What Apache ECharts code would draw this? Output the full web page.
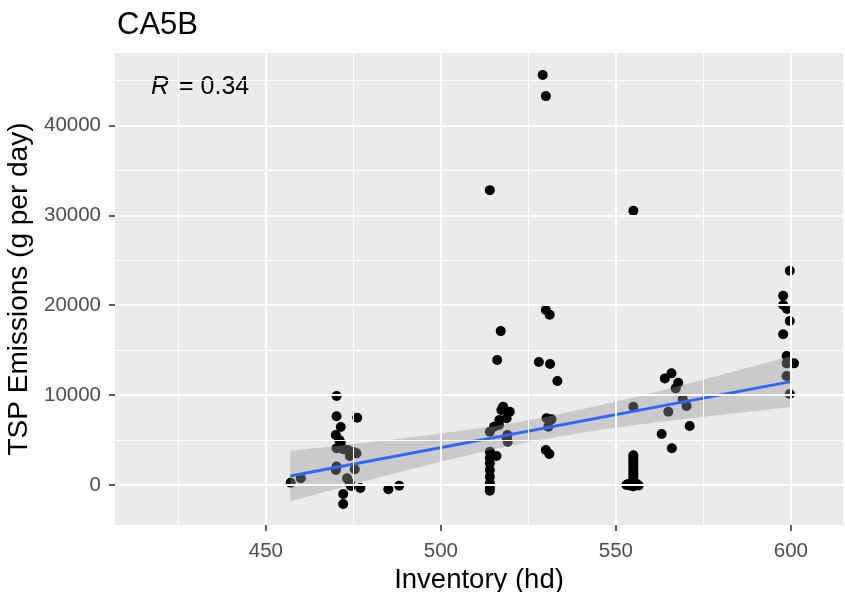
<!DOCTYPE html>
<html>
<head>
<meta charset="utf-8">
<script src="https://cdn.jsdelivr.net/npm/echarts@6/dist/echarts.min.js"></script>
<style>
html,body{margin:0;padding:0;background:#fff;}
#chart{width:845px;height:592px;}
</style>
</head>
<body>
<div id="chart"></div>
<script>
// ---- data ----
const inventory = [
  457.1, 460, 470.2, 470.2, 476.1, 471.4, 470, 471, 471.4, 470.2, 472.1, 473.5, 474.9, 475.9, 474, 475.4, 470, 470.2, 473.2, 474, 474.3, 477, 472.1, 472.1, 485, 488.1,
  514, 517.1, 516.1, 517.8, 519.7, 517.3, 518.8, 516.7, 515.2, 514, 519, 519.1, 518.8, 516.6, 514, 515.9, 514, 514, 514, 514, 514, 514, 514,
  529.1, 530, 530, 531.1, 528, 531.2, 533.3, 530.2, 531.6, 530.7, 530, 531,
  555, 555, 555, 555, 555, 555, 555, 555, 555, 555, 555, 555, 553, 553.5, 554, 554.5, 555.5, 556, 556.5, 555,
  564, 565.9, 567.8, 567.1, 569.1, 570.2, 565, 571.1, 563.1, 566,
  599.7, 597.8, 597.8, 598.9, 599.7, 597.8, 598.8, 598.8, 600.9, 598.8, 599.7
];
const tspEmissions = [
  260, 750, 9900, 7650, 7480, 6450, 5560, 5000, 4700, 4080, 3970, 3890, 3700, 3520, 3225, 1745, 1670, 2050, 745, 190, -110, -330, -1000, -2110, -480, -80,
  32800, 17120, 13900, 8710, 8150, 8340, 7420, 7230, 6480, 5930, 5560, 4820, 5190, 6670, 3700, 3225, 3000, 2410, 1670, 920, 190, -300, -630,
  45600, 43260, 19460, 18940, 13680, 13460, 11560, 7420, 7300, 6480, 3890, 3450,
  30500, 8710, 3300, 3000, 2700, 2400, 2100, 1800, 1500, 1200, 900, 600, 0, 100, -50, 50, 0, 100, -50, -150,
  11860, 12420, 11380, 10750, 9560, 8780, 8150, 6560, 5670, 4080,
  23830, 21050, 20020, 19570, 18240, 16760, 14350, 13530, 13530, 12120, 10120
];
// fitted line and its confidence band
const fitX = [457, 600];
const fitY = [1000, 11500];
const bandX = [457, 470, 480, 490, 500, 515, 528, 545, 560, 580, 600];
const bandUpper = [3815, 4343, 4776, 5231, 5716, 6543, 7411, 8803, 10215, 12235, 14326];
const bandLower = [-1815, -435, 600, 1613, 2596, 3971, 5011, 6115, 6905, 7821, 8666];
// ticks
const xTicks = [450, 500, 550, 600];
const xMinor = [425, 475, 525, 575];
const yTicks = [0, 10000, 20000, 30000, 40000];
const yMinor = [5000, 15000, 25000, 35000, 45000];
const xRange = [406.9, 614.9];
const yRange = [-4449, 48053];
const titleText = 'CA5B';
const xTitle = 'Inventory (hd)';
const yTitle = 'TSP Emissions (g per day)';
const corrItalic = 'R';
const corrRest = '= 0.34';

// ---- chart ----
const FONT = '"Liberation Sans", Arial, sans-serif';
const chart = echarts.init(document.getElementById('chart'), null, {renderer: 'canvas'});

const points = inventory.map((x, i) => [x, tspEmissions[i]]);
const gridLines = [];
xTicks.forEach(v => gridLines.push({xAxis: v, lineStyle: {width: 2}}));
xMinor.forEach(v => gridLines.push({xAxis: v, lineStyle: {width: 1}}));
yTicks.forEach(v => gridLines.push({yAxis: v, lineStyle: {width: 2}}));
yMinor.forEach(v => gridLines.push({yAxis: v, lineStyle: {width: 1}}));

const option = {
  animation: false,
  backgroundColor: '#ffffff',
  title: {
    text: titleText, left: 112, top: 5,
    textStyle: {fontFamily: FONT, fontSize: 31, fontWeight: 'normal', color: '#000'}
  },
  grid: {left: 115, right: 2, top: 53, bottom: 67, show: true, backgroundColor: '#EBEBEB', borderWidth: 0,
    outerBoundsMode: 'none', containLabel: false},
  xAxis: {
    type: 'value', min: xRange[0], max: xRange[1],
    name: xTitle, nameLocation: 'middle', nameGap: 36,
    nameTextStyle: {fontFamily: FONT, fontSize: 27.5, color: '#000'},
    axisLine: {show: false, onZero: false},
    axisTick: {show: true, customValues: xTicks, length: 6, lineStyle: {color: '#333333', width: 1.6}},
    axisLabel: {customValues: xTicks, fontFamily: FONT, fontSize: 20.5, color: '#4D4D4D', margin: 16,
      formatter: v => String(v)},
    splitLine: {show: false}
  },
  yAxis: {
    type: 'value', min: yRange[0], max: yRange[1],
    name: yTitle, nameLocation: 'middle', nameGap: 70,
    nameTextStyle: {fontFamily: FONT, fontSize: 28, color: '#000'},
    axisLine: {show: false, onZero: false},
    axisTick: {show: true, customValues: yTicks, length: 6, lineStyle: {color: '#333333', width: 1.6}},
    axisLabel: {customValues: yTicks, fontFamily: FONT, fontSize: 20.5, color: '#4D4D4D', margin: 14,
      formatter: v => String(v)},
    splitLine: {show: false}
  },
  graphic: [
    {type: 'text', left: 151, top: 75,
      style: {text: corrItalic, font: 'italic 25px ' + FONT, fill: '#000'}},
    {type: 'text', left: 179, top: 75,
      style: {text: corrRest, font: '25px ' + FONT, fill: '#000'}}
  ],
  series: [
    {
      type: 'line', data: [], z: 1, silent: true,
      markLine: {
        silent: true, symbol: ['none', 'none'], label: {show: false},
        lineStyle: {color: '#ffffff', type: 'solid'},
        animation: false,
        data: gridLines
      }
    },
    {
      type: 'scatter', data: points, z: 2, symbolSize: 10,
      itemStyle: {color: '#000000', opacity: 1}
    },
    {
      type: 'custom', z: 3, silent: true,
      data: [[bandX[0], bandLower[0]]],
      renderItem: function (params, api) {
        const pts = [];
        for (let i = 0; i < bandX.length; i++) pts.push(api.coord([bandX[i], bandUpper[i]]));
        for (let i = bandX.length - 1; i >= 0; i--) pts.push(api.coord([bandX[i], bandLower[i]]));
        return {type: 'polygon', shape: {points: pts}, style: {fill: 'rgba(153,153,153,0.4)'}};
      }
    },
    {
      type: 'line', z: 4, data: fitX.map((x, i) => [x, fitY[i]]),
      symbol: 'none', lineStyle: {color: '#3366FF', width: 3}
    }
  ]
};
chart.setOption(option);
</script>
</body>
</html>
